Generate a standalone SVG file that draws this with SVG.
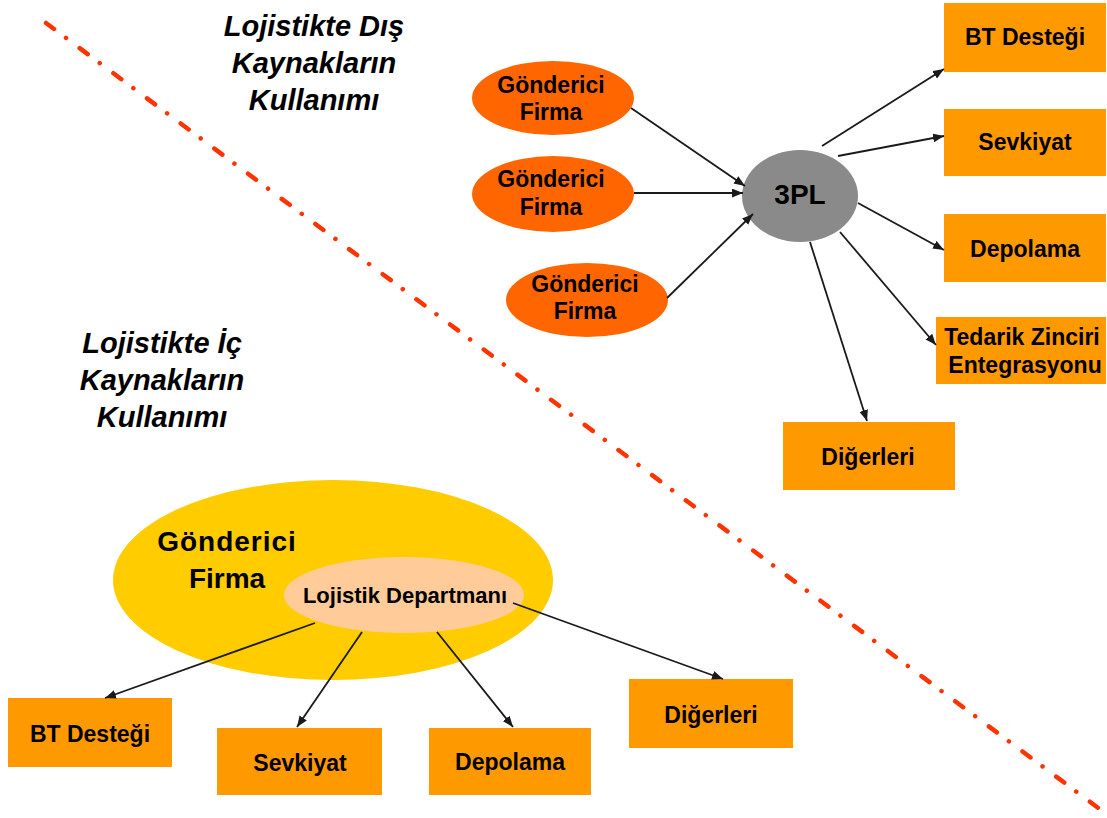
<svg xmlns="http://www.w3.org/2000/svg" width="1107" height="818" viewBox="0 0 1107 818">
  <style>
    .box { fill: #FF9900; }
    .sender { fill: #FF6600; }
    .lbl { font-family: "Liberation Sans", Arial, sans-serif; font-weight: bold; fill: #000; text-anchor: middle; }
    .box-lbl { font-size: 23px; }
    .sender-lbl { font-size: 23px; }
    .title { font-family: "Liberation Sans", Arial, sans-serif; font-weight: bold; font-style: italic; font-size: 29px; fill: #000; text-anchor: middle; }
    .link { stroke: #1a1a1a; stroke-width: 1.8; fill: none; marker-end: url(#ah); }
    .divider { stroke: #FF3300; stroke-width: 4.5; stroke-linecap: round; stroke-dasharray: 10 15 0.01 17; fill: none; }
  </style>
  <defs>
    <marker id="ah" viewBox="0 0 10 8" refX="10" refY="4" markerWidth="11" markerHeight="9" markerUnits="userSpaceOnUse" orient="auto">
      <path d="M0,0 L10,4 L0,8 Z" fill="#1a1a1a"/>
    </marker>
  </defs>

  <rect width="1107" height="818" fill="#FFFFFF"/>

  <!-- dash-dot divider between outsourced and in-house halves -->
  <line class="divider" x1="46" y1="23" x2="1105" y2="813"/>

  <!-- section titles -->
  <g id="title-outsourced">
    <text class="title" x="314" y="36">Lojistikte Dış</text>
    <text class="title" x="314" y="73">Kaynakların</text>
    <text class="title" x="314" y="110">Kullanımı</text>
  </g>
  <g id="title-inhouse">
    <text class="title" x="162" y="353">Lojistikte İç</text>
    <text class="title" x="162" y="390">Kaynakların</text>
    <text class="title" x="162" y="427">Kullanımı</text>
  </g>

  <!-- outsourced side -->
  <g id="sender-1">
    <ellipse class="sender" cx="553" cy="98" rx="81" ry="37"/>
    <text class="lbl sender-lbl" x="551" y="93">Gönderici</text>
    <text class="lbl sender-lbl" x="551" y="120">Firma</text>
  </g>
  <g id="sender-2">
    <ellipse class="sender" cx="553" cy="194" rx="81" ry="38"/>
    <text class="lbl sender-lbl" x="551" y="187">Gönderici</text>
    <text class="lbl sender-lbl" x="551" y="215">Firma</text>
  </g>
  <g id="sender-3">
    <ellipse class="sender" cx="587" cy="300" rx="81" ry="37"/>
    <text class="lbl sender-lbl" x="585" y="292">Gönderici</text>
    <text class="lbl sender-lbl" x="585" y="319">Firma</text>
  </g>
  <g id="tpl">
    <ellipse cx="800" cy="196" rx="58" ry="46" fill="#8A8A8A"/>
    <text class="lbl" x="800" y="204" font-size="28">3PL</text>
  </g>
  <g id="out-bt">
    <rect class="box" x="944" y="3" width="162" height="69"/>
    <text class="lbl box-lbl" x="1025" y="45">BT Desteği</text>
  </g>
  <g id="out-shipping">
    <rect class="box" x="944" y="109" width="162" height="67"/>
    <text class="lbl box-lbl" x="1025" y="150">Sevkiyat</text>
  </g>
  <g id="out-storage">
    <rect class="box" x="944" y="214" width="162" height="68"/>
    <text class="lbl box-lbl" x="1025" y="257">Depolama</text>
  </g>
  <g id="out-scm">
    <rect class="box" x="936" y="317" width="170" height="67"/>
    <text class="lbl box-lbl" x="1022" y="345">Tedarik Zinciri</text>
    <text class="lbl box-lbl" x="1025" y="373">Entegrasyonu</text>
  </g>
  <g id="out-other">
    <rect class="box" x="783" y="422" width="172" height="68"/>
    <text class="lbl box-lbl" x="868" y="465">Diğerleri</text>
  </g>

  <!-- in-house side -->
  <g id="firm">
    <ellipse cx="333" cy="580" rx="220" ry="100" fill="#FFCC00"/>
    <text class="lbl" x="227" y="551" font-size="28" letter-spacing="1">Gönderici</text>
    <text class="lbl" x="227" y="588" font-size="28">Firma</text>
  </g>
  <g id="logistics-dept">
    <ellipse cx="404" cy="595" rx="120" ry="38" fill="#FFCC99"/>
    <text class="lbl" x="405" y="603" font-size="22">Lojistik Departmanı</text>
  </g>
  <g id="in-bt">
    <rect class="box" x="8" y="698" width="164" height="69"/>
    <text class="lbl box-lbl" x="90" y="742">BT Desteği</text>
  </g>
  <g id="in-shipping">
    <rect class="box" x="217" y="728" width="165" height="67"/>
    <text class="lbl box-lbl" x="300" y="771">Sevkiyat</text>
  </g>
  <g id="in-storage">
    <rect class="box" x="429" y="728" width="162" height="67"/>
    <text class="lbl box-lbl" x="510" y="770">Depolama</text>
  </g>
  <g id="in-other">
    <rect class="box" x="629" y="679" width="164" height="69"/>
    <text class="lbl box-lbl" x="711" y="723">Diğerleri</text>
  </g>

  <!-- connectors, drawn over the nodes -->
  <g id="connectors">
    <!-- senders into 3PL -->
    <line class="link" x1="631" y1="108" x2="745" y2="186"/>
    <line class="link" x1="634" y1="193" x2="743" y2="193"/>
    <line class="link" x1="667" y1="298" x2="753" y2="214"/>
    <!-- 3PL out to services -->
    <line class="link" x1="822" y1="146" x2="944" y2="69"/>
    <line class="link" x1="838" y1="156" x2="944" y2="136"/>
    <line class="link" x1="858" y1="203" x2="944" y2="250"/>
    <line class="link" x1="840" y1="232" x2="936" y2="345"/>
    <line class="link" x1="810" y1="242" x2="867" y2="421"/>
    <!-- logistics department out to services -->
    <line class="link" x1="315" y1="623" x2="105" y2="698"/>
    <line class="link" x1="362" y1="632" x2="297" y2="727"/>
    <line class="link" x1="437" y1="632" x2="513" y2="727"/>
    <line class="link" x1="513" y1="603" x2="723" y2="679"/>
  </g>
</svg>
